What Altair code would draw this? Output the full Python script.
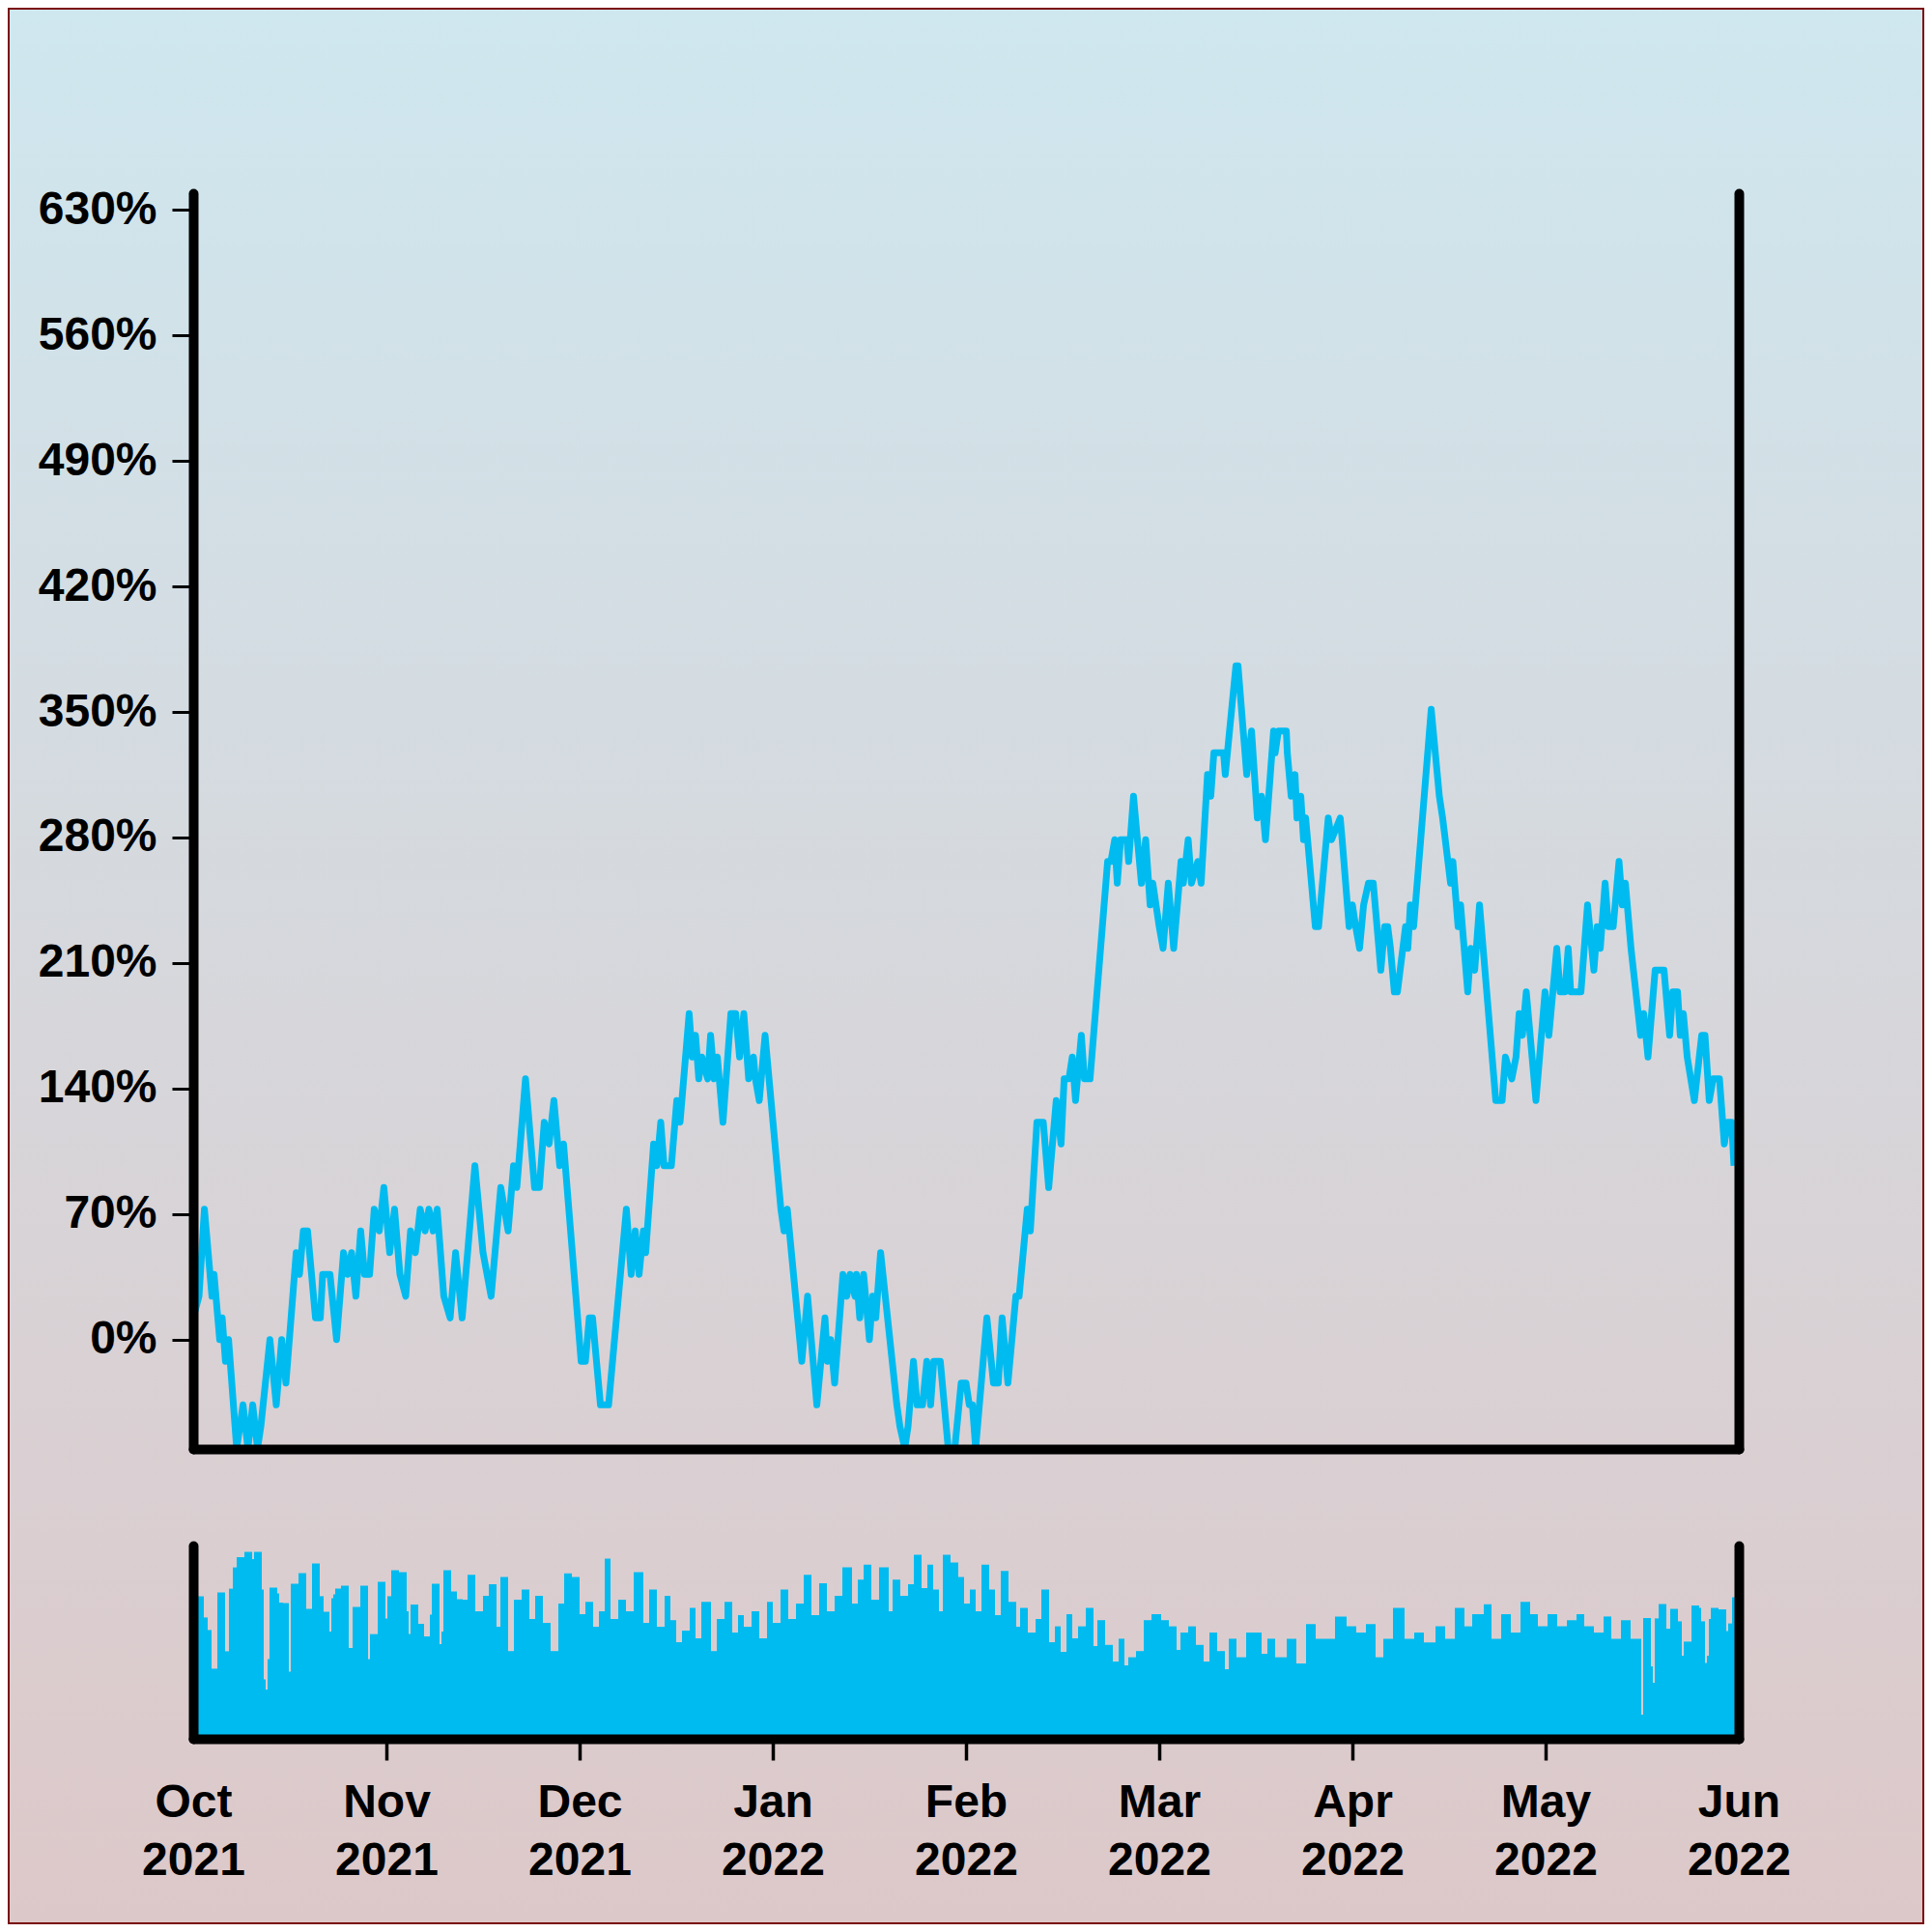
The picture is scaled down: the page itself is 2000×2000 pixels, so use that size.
import altair as alt
import pandas as pd

# ---------------- data ----------------
# x is an index: 100 points per month, 0 = 1 Oct 2021, 800 = 1 Jun 2022
month_ticks = [0, 100, 200, 300, 400, 500, 600, 700, 800]
month_names = ["Oct", "Nov", "Dec", "Jan", "Feb", "Mar", "Apr", "May", "Jun"]
year_names = ["2021", "2021", "2021", "2022", "2022", "2022", "2022", "2022", "2022"]
pct_ticks = [0, 70, 140, 210, 280, 350, 420, 490, 560, 630]

line_idx = [0, 3.0, 5.8, 9.7, 10.8, 13.7, 15, 16.7, 18.3, 22.5, 25.8, 28.3, 30.8, 33.3, 35, 39.7, 43, 45.8, 48,
            53.3, 55, 57, 59.2, 63.3, 65.8, 67, 70.8, 74.2, 77.8, 80, 82, 84.2, 86.7, 88.7, 91.3, 93.7, 96.3,
            98.7, 101.7, 104.2, 107, 110, 112.5, 115, 117.5, 120, 122, 124.2, 126.3, 129.7, 133, 135.8, 139.2,
            145.8, 150, 154.2, 159.2, 163, 165.8, 167.5, 172, 176.7, 179.2, 181.7, 184.2, 186.7, 189.7, 191.7,
            200.8, 203, 205, 206.7, 210.8, 215, 224.2, 226.7, 228.8, 230.8, 233, 234.2, 238.3, 240, 242, 243.7,
            247.5, 250.3, 252, 256.7, 258.3, 260, 261.7, 263.3, 266.3, 267.8, 269.7, 271.3, 274.2, 278.3, 280.8,
            282.8, 285, 287.5, 290, 291, 293, 296, 304.2, 305.8, 307.5, 315, 318, 322.8, 327, 328.3, 330, 332,
            336.3, 338.3, 340, 342.5, 343.3, 345, 347, 350,
            351.7, 353.3, 355.8, 364.2, 365.8, 368.3, 370, 372.8, 374.7, 377.5, 379.7, 381.7, 383.3, 386.7,
            390.8, 394.2, 397.5, 400, 401.7, 403.3, 405, 410.8, 414.2, 416.7, 418.7, 421.7, 425.8, 427.5, 431.7,
            433.3, 436.7, 440, 442.8, 446.7, 449.2, 450.8, 453.3, 455, 456.7, 459.7, 461.3, 464.2, 473.3, 475,
            477, 478.3, 480, 483.3, 484.2, 486.7, 490.8, 493, 495.3, 496.7, 500, 502, 504.7, 507.5, 511.3, 512.5,
            515, 516.7, 520, 521.7, 525, 526.7, 528.3, 533.3, 534.2, 539.7, 540.8, 545.3, 547.8, 550.8, 553, 555,
            559.2,
            560, 561.7, 565.8, 566.3, 568.3, 570.3, 571.3, 573.3, 574.7, 575.8, 580.8, 582.5, 587.5, 589.2, 593.7,
            594.7, 598.3, 600, 601.7, 603.7, 605.8, 608.3, 610.8, 614.7, 616.7, 618.3, 619.7, 621.7, 623.3, 627.5,
            628.7, 630, 631.7, 640.8, 645, 646.7, 650.8, 652, 654.7, 656, 659.7, 661.3, 663.3, 665.8, 674.2, 677.5,
            679.2, 682.5, 684.7, 686.3, 688, 690, 695, 699.7, 701.7, 705.8, 707.5, 710, 711.7, 713, 718.3, 721.7,
            725, 726.7, 728.3, 730.8, 732.5, 735, 738, 739.7, 741.3, 744.2, 749.2, 750.8, 753, 756.7, 761.3, 764.2,
            765.8, 768.3, 769.7, 771.3, 773.3, 777, 780.8, 782.5, 784.7, 786.7, 790, 792.5, 794.2, 796.3, 797.5]

line_pct = [12.1, 24.2, 72.7, 24.2, 36.4, 0, 12.1, -12.1, 0, -60.6, -36.4, -60.6, -36.4, -60.6, -48.5, 0, -36.4, 0,
            -24.2, 48.5, 36.4, 60.6, 60.6, 12.1, 12.1, 36.4, 36.4, 0, 48.5, 36.4, 48.5, 24.2, 60.6, 36.4, 36.4,
            72.7, 60.6, 84.8, 48.5, 72.7, 36.4, 24.2, 60.6, 48.5, 72.7, 60.6, 72.7, 60.6, 72.7, 24.2, 12.1, 48.5,
            12.1, 97.0, 48.5, 24.2, 84.8, 60.6, 97.0, 84.8, 145.4, 84.8, 84.8, 121.2, 109.1, 133.3, 97.0, 109.1,
            -12.1, -12.1, 12.1, 12.1, -36.4, -36.4, 72.7, 36.4, 60.6, 36.4, 60.6, 48.5, 109.1, 97.0, 121.2, 97.0,
            97.0, 133.3, 121.2, 181.8, 157.6, 169.7, 145.4, 157.6, 145.4, 169.7, 145.4, 157.6, 121.2, 181.8, 181.8,
            157.6, 181.8, 145.4, 157.6, 145.4, 133.3, 169.7, 72.7, 60.6, 72.7, -12.1, 24.2, -36.4, 12.1, -12.1, 0,
            -24.2, 36.4, 24.2, 36.4, 24.2, 36.4, 12.1, 36.4, 0,
            24.2, 12.1, 48.5, -36.4, -48.5, -60.6, -48.5, -12.1, -36.4, -36.4, -12.1, -36.4, -12.1, -12.1,
            -60.6, -60.6, -24.2, -24.2, -36.4, -36.4, -60.6, 12.1, -24.2, -24.2, 12.1, -24.2, 24.2, 24.2, 72.7,
            60.6, 121.2, 121.2, 84.8, 133.3, 109.1, 145.4, 145.4, 157.6, 133.3, 169.7, 145.4, 145.4, 266.6, 266.6,
            278.8, 254.5, 278.8, 278.8, 266.6, 303.0, 254.5, 278.8, 242.4, 254.5, 230.3, 218.2, 254.5, 218.2, 266.6,
            254.5, 278.8, 254.5, 266.6, 254.5, 315.1, 303.0, 327.2, 327.2, 315.1, 375.7, 375.7, 315.1, 339.4,
            290.9, 303.0, 278.8, 339.4,
            327.2, 339.4, 339.4, 327.2, 303.0, 315.1, 290.9, 303.0, 278.8, 290.9, 230.3, 230.3, 290.9, 278.8,
            290.9, 278.8, 230.3, 242.4, 230.3, 218.2, 242.4, 254.5, 254.5, 206.0, 230.3, 230.3, 218.2, 193.9,
            193.9, 230.3, 218.2, 242.4, 230.3, 351.5, 303.0, 290.9, 254.5, 266.6, 230.3, 242.4, 193.9, 218.2,
            206.0, 242.4, 133.3, 133.3, 157.6, 145.4, 157.6, 181.8, 169.7, 193.9, 133.3, 193.9, 169.7, 218.2,
            193.9, 193.9, 218.2, 193.9, 193.9, 242.4, 206.0, 230.3, 218.2, 254.5, 230.3, 230.3, 266.6, 242.4,
            254.5, 218.2, 169.7, 181.8, 157.6, 206.0, 206.0, 169.7, 193.9, 193.9, 169.7, 181.8, 157.6, 133.3,
            169.7, 169.7, 133.3, 145.4, 145.4, 109.1, 121.2, 121.2, 97.0]

# bar runs: bar k spans bar_edges[k] .. bar_edges[k+1] (index units) with height bar_heights[k]
bar_edges = [-0.5, 5.5, 7.5, 9.5, 12.5, 16.5, 18.5, 20.5, 22.5, 26.5, 30.5, 31.5, 35.5, 36.5, 37.5, 38.5, 39.5,
             43.5, 44.5, 46.5, 49.5, 50.5, 54.5, 58.5, 61.5, 65.5, 67.5, 70.5, 71.5, 72.5, 73.5, 76.5, 80.5, 82.5,
             86.5, 90.5, 91.5, 95.5, 99.5, 100.5, 102.5, 106.5, 110.5, 111.5, 112.5, 116.5, 119.5, 122.5, 123.5,
             127.5, 128.5, 129.5, 133.5, 136.5, 139.5,
             142, 146, 150, 153, 157, 159, 163, 166, 170, 174, 177, 181, 185, 189, 192, 196, 200, 203, 207, 210,
             213, 216, 220, 224, 228, 233, 236, 240, 244, 247, 250, 253, 257, 260, 263, 268, 271, 275, 279, 282,
             285, 289, 293, 297, 300, 304, 308, 312, 316, 320, 324, 328, 332, 336, 341, 344, 347, 351, 355, 360,
             362, 366, 370, 373, 377, 380, 383, 386, 388, 392, 396, 399, 402, 405, 408, 412, 415, 418, 422, 426,
             428, 432, 436, 439, 443, 446, 449, 452, 455, 458, 462, 466, 468, 472, 476, 479, 482, 484, 488, 492,
             496, 501, 505, 509, 511, 515, 519, 523, 526, 530, 534, 536, 540, 545, 549, 553, 556, 560, 566, 571,
             576, 581, 586, 591, 597, 602, 607, 612, 616, 621, 627, 632, 637, 643, 648, 653, 658, 662, 668, 672,
             677, 682, 687, 692, 696, 701, 706, 711, 716, 720, 725, 730, 734, 739, 744, 749.5,
             750.5, 754.5, 755.5, 756.5, 758.5, 762.5, 764.5, 768.5, 770.5, 771.5, 775.5, 779.5, 780.5, 782.5,
             783.5, 784.5, 785.5, 789.5, 793.5, 794.5, 796.5, 800.5]

bar_heights = [73.7, 62.8, 56.3, 36.3, 75.7, 45.3, 77.7, 88.7, 94, 96.7, 93, 96.7, 77.2, 30.8, 25.5, 41.2, 78.3,
               75.3, 70.5, 70.3, 34.7, 80.3, 85.7, 67.2, 90.7, 73.8, 65.7, 55.5, 72.8, 74.7, 77.8, 79.3, 47, 68.2,
               79.2, 41.3, 54.2, 81.3, 62.2, 73.8, 87.2, 86.3, 66, 54.3, 69.5, 59.5, 53, 64.3, 80.3, 49, 55.5,
               87.2, 76.3, 72.3,
               72, 84.9, 66, 74, 80, 58, 83.7, 45.4, 72, 77.3, 62, 74, 60, 45.4, 70, 85.6, 83.7, 64.5, 70.9, 58,
               66, 93.2, 62, 72, 66, 86.2, 60, 77.3, 58, 74, 61.4, 50, 56, 67.7, 52, 70.9, 45.4, 62, 70.9, 55,
               64, 58, 66, 52, 70.9, 60, 77.3, 62, 70, 84.9, 64, 80.5, 66, 74, 88.8, 70, 82.4, 90.1, 72, 88.8,
               66, 82.4, 74, 80, 95.2, 78, 90.1, 77.3, 66, 95.2, 91.3, 83.7, 70, 77.3, 66, 90.1, 77.3, 64, 86.9,
               70.9, 58, 67.7, 55, 62, 77.3, 50, 58.2, 45, 64.5, 52, 58.2, 67.7, 48, 61.4, 48.6, 40, 51.8, 38,
               42.2, 45.4, 61.4, 64.5, 61.4, 58.2, 46, 55, 58.2, 48.6, 40, 55, 45.4, 36, 51.8, 42.2, 55, 55, 44,
               51.8, 42.2, 51.8, 39, 59.4, 51.8, 51.8, 63.3, 58.2, 55, 59.4, 42.2, 51.8, 67.7, 51.8, 55, 49.9,
               58.2, 51.8, 67.7, 58.2, 64.5, 69.6, 51.8, 64.5, 55, 70.9, 64.5, 58.2, 64.5, 58.2, 61.4, 64.5, 58.2,
               55, 63.3, 51.8, 61.4, 51.8,
               12.5, 62.5, 37.5, 29, 62.3, 69.8, 57, 67.3, 60.8, 43, 50.3, 69, 67.8, 60.8, 39.2, 43, 62, 67.8, 67,
               55.7, 59.7, 73.3]

# ---------------- styles ----------------
CYAN = "#00BBF0"
FONT = "Liberation Sans"

line_df = pd.DataFrame({"idx": line_idx, "pct": line_pct})
runs = list(zip(bar_edges[:-1], bar_edges[1:], bar_heights))
bar_df = pd.DataFrame(runs, columns=["x0", "x1", "h"])
bg_df = pd.DataFrame({"bg": [0]})

xscale = alt.Scale(domain=[0, 800], nice=False, zero=False)
yscale = alt.Scale(domain=[-61, 639.3], nice=False, zero=False)
bscale = alt.Scale(domain=[0, 100], nice=False)

js_months = "[" + ",".join("'%s'" % m for m in month_names) + "]"
js_years = "[" + ",".join("'%s'" % y for y in year_names) + "]"
label_expr = "[%s[round(datum.value/100)], %s[round(datum.value/100)]]" % (js_months, js_years)

common = dict(domainColor="black", domainWidth=10, domainCap="round", grid=False, title=None, zindex=1)

x_axis_top = alt.Axis(labels=False, ticks=False, **common)
x_axis_bottom = alt.Axis(values=month_ticks, labelExpr=label_expr,
                         labelFlush=False, labelOverlap=False, labelBaseline="top",
                         labelLineHeight=60, labelPadding=20,
                         tickColor={"condition": {"test": "datum.value == 0 || datum.value == 800",
                                                  "value": "transparent"}, "value": "black"},
                         tickWidth=3.5, tickSize=22, **common)
y_axis_left = alt.Axis(values=pct_ticks, labelExpr="datum.value + '%'", tickColor="black",
                       tickWidth=3, tickSize=22, labelPadding=16, labelOverlap=False, **common)
y_axis_right = alt.Axis(orient="right", labels=False, ticks=False, **common)
b_axis_left = alt.Axis(labels=False, ticks=False, **common)
b_axis_right = alt.Axis(orient="right", labels=False, ticks=False, **common)

gradient = alt.LinearGradient(
    gradient="linear",
    stops=[alt.GradientStop(color="#cfe7ef", offset=0), alt.GradientStop(color="#ddc8c9", offset=1)],
    x1=0, x2=0, y1=0, y2=1,
)

bg = alt.Chart(bg_df).mark_rect(fill=gradient, stroke="#7a0a0a", strokeWidth=2).encode(
    x=alt.value(-191), x2=alt.value(1791), y=alt.value(-191), y2=alt.value(1791)
)

line = alt.Chart(line_df).mark_line(color=CYAN, strokeWidth=7, strokeJoin="round").encode(
    x=alt.X("idx:Q", scale=xscale, axis=x_axis_top),
    y=alt.Y("pct:Q", scale=yscale, axis=y_axis_left),
)
line_r = alt.Chart(line_df).mark_line(opacity=0).encode(
    x=alt.X("idx:Q", scale=xscale, axis=x_axis_top),
    y=alt.Y("pct:Q", scale=yscale, axis=y_axis_right),
)
top = alt.layer(bg, line, line_r).resolve_axis(y="independent").properties(width=1600, height=1300)

bars = alt.Chart(bar_df).mark_rect(color=CYAN).encode(
    x=alt.X("x0:Q", scale=xscale, axis=x_axis_bottom),
    x2="x1:Q",
    y=alt.Y("h:Q", scale=bscale, axis=b_axis_left),
    y2=alt.datum(0),
)
bars_r = alt.Chart(bar_df).mark_rect(opacity=0).encode(
    x=alt.X("x0:Q", scale=xscale, axis=x_axis_bottom),
    x2="x1:Q",
    y=alt.Y("h:Q", scale=bscale, axis=b_axis_right),
    y2=alt.datum(0),
)
bottom = alt.layer(bars, bars_r).resolve_axis(y="independent").properties(width=1600, height=200)

chart = alt.vconcat(top, bottom, spacing=100, bounds="flush").properties(padding=0).configure_axis(
    labelFont=FONT, labelFontSize=48, labelFontWeight="bold", labelColor="black",
).configure_view(stroke=None)

chart.save("out.html", embed_options={"renderer": "svg", "actions": False})
